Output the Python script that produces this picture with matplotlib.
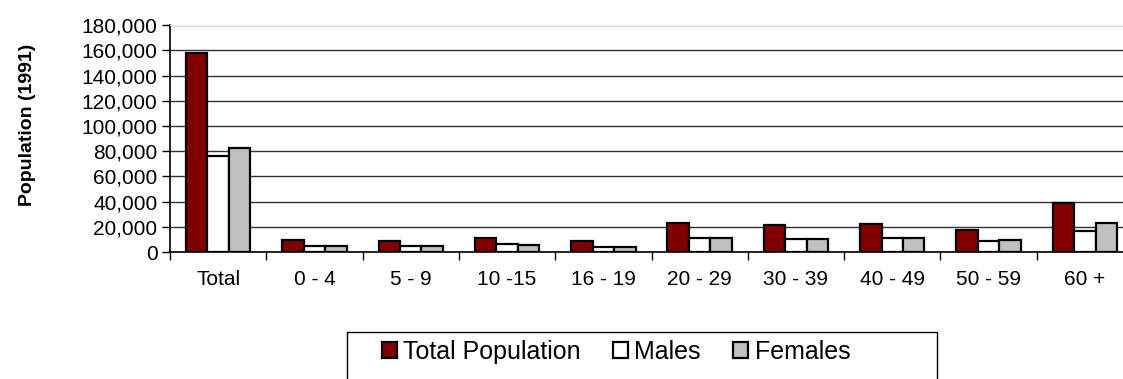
import matplotlib.pyplot as plt
import numpy as np
from matplotlib.patches import Rectangle
from matplotlib.ticker import FuncFormatter, FixedLocator

plt.rcParams['font.family'] = ['Liberation Sans', 'DejaVu Sans']

categories = ['Total', '0 - 4', '5 - 9', '10 -15', '16 - 19', '20 - 29',
              '30 - 39', '40 - 49', '50 - 59', '60 +']
total_pop = [158200, 9300, 9100, 11100, 8500, 23000, 21400, 22500, 17700, 38900]
males = [76400, 5000, 4600, 6100, 4000, 11100, 10300, 10900, 8500, 16400]
females = [82800, 4500, 4400, 5600, 4200, 11400, 10600, 11100, 9200, 22800]

fig = plt.figure(figsize=(11.23, 3.79), dpi=100)
ax = fig.add_axes([170 / 1123, 1 - 252 / 379, 963 / 1123, (252 - 25.3) / 379])

x = np.arange(len(categories))
w = 0.223
kw = dict(width=w, edgecolor='black', linewidth=1.6, zorder=3)
ax.bar(x - w, total_pop, color='#800000', label='Total Population', **kw)
ax.bar(x, males, color='white', label='Males', **kw)
ax.bar(x + w, females, color='#c0c0c0', label='Females', **kw)

ax.set_xlim(-0.5, len(categories) - 0.5)
ax.set_ylim(0, 180000)
ax.set_yticks(np.arange(0, 180001, 20000))
ax.yaxis.set_major_formatter(FuncFormatter(lambda v, p: f'{int(v):,}'))
ax.yaxis.grid(True, color='#333333', linewidth=1.0, zorder=0)

ax.set_xticks(x)
ax.set_xticklabels(categories)
ax.xaxis.set_minor_locator(FixedLocator(np.arange(-0.5, len(categories), 1.0)))
ax.tick_params(axis='x', which='major', length=0, pad=13, labelsize=15)
ax.tick_params(axis='x', which='minor', length=6, width=1, color='black')
ax.tick_params(axis='y', length=6, width=1, labelsize=15, pad=3)

ax.spines['right'].set_visible(False)
ax.spines['top'].set_color('#eeeeee')
ax.spines['left'].set_linewidth(1.2)
ax.spines['bottom'].set_linewidth(1.2)

ax.set_ylabel('Population (1991)', fontsize=14, fontweight='bold')
ax.yaxis.set_label_coords(28 / 1123, 1 - 125 / 379, transform=fig.transFigure)
ax.yaxis.label.set_verticalalignment('center')

# legend box, cut off by the bottom edge
fig.patches.append(Rectangle((347 / 1123, -0.05), (937 - 347) / 1123, 0.05 + 1 - 332 / 379,
                             transform=fig.transFigure, facecolor='white',
                             edgecolor='black', linewidth=1.0))
fig.legend(loc='center', bbox_to_anchor=(616 / 1123, 1 - 352 / 379), ncol=3,
           frameon=False, fontsize=18, handlelength=0.6, handleheight=0.6,
           handletextpad=0.25, columnspacing=1.3)

fig.savefig('out.png', dpi=100)
